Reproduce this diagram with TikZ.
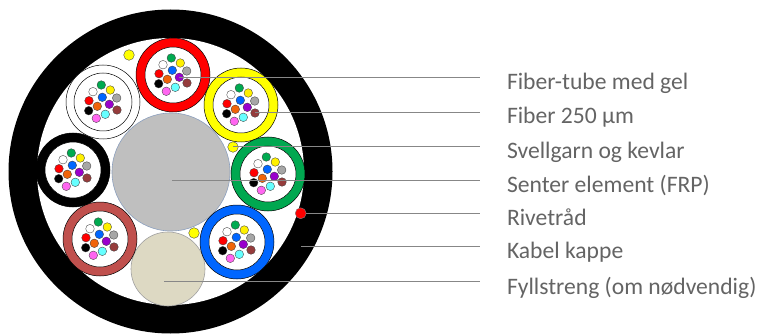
\documentclass[tikz,border=0pt]{standalone}
\usepackage{fontspec}
\setmainfont{Carlito}

% tube and fibre colours
\definecolor{tubered}{RGB}{255,0,0}
\definecolor{tubeyellow}{RGB}{255,255,0}
\definecolor{tubegreen}{RGB}{0,168,80}
\definecolor{tubeblue}{RGB}{0,102,255}
\definecolor{tubebrown}{RGB}{192,80,77}
\definecolor{fgreen}{RGB}{0,170,80}
\definecolor{fyellow}{RGB}{255,240,0}
\definecolor{fred}{RGB}{255,0,0}
\definecolor{fblue}{RGB}{0,102,255}
\definecolor{fgrey}{RGB}{166,166,166}
\definecolor{forange}{RGB}{240,100,10}
\definecolor{fpurple}{RGB}{153,0,204}
\definecolor{fbrown}{RGB}{150,60,60}
\definecolor{fpink}{RGB}{255,102,240}
\definecolor{fcyan}{RGB}{102,255,255}
\definecolor{coregrey}{RGB}{191,191,191}
\definecolor{coreedge}{RGB}{140,160,190}
\definecolor{fillerbeige}{RGB}{221,217,195}
\definecolor{filleredge}{RGB}{160,160,160}
\definecolor{swellyellow}{RGB}{255,255,0}
\definecolor{leadergray}{RGB}{135,135,135}
\definecolor{textgray}{RGB}{100,100,100}

\begin{document}
\begin{tikzpicture}[x=1pt,y=-1pt,
  every node/.style={inner sep=0pt,outer sep=0pt},
  disc/.style={circle,minimum size=#1},
  tube/.style={disc=74pt,draw=black,line width=0.5pt,fill=#1},
  gel/.style={disc=56pt,draw=black,line width=0.5pt,fill=white},
  fiber/.style={disc=8.6pt,draw=black!75,line width=0.35pt,fill=#1},
  yarn/.style={disc=10.6pt,draw=black!70,line width=0.4pt,fill=swellyellow},
  leader/.style={draw=leadergray,line width=1pt},
  legendtext/.style={anchor=base west,inner xsep=27pt,text=textgray,
    font=\fontsize{23.6}{28}\selectfont}
]
\useasboundingbox (0,0) rectangle (763,334);

% cable jacket
\node[disc=324pt,fill=black] (jacket) at (170.5,171.5) {};
\node[disc=267pt,fill=white] (bore) at (170.5,171.5) {};

% central strength member and filler rod
\node[disc=118pt,fill=coregrey,draw=coreedge,line width=0.6pt] (core) at (171,172) {};
\node[disc=74pt,fill=fillerbeige,draw=filleredge,line width=0.6pt] (filler) at (168,269) {};

% coloured loose tubes
\foreach \name/\col/\x/\y in {tred/tubered/173/75, tyellow/tubeyellow/241/105,
    tgreen/tubegreen/268/174, tblue/tubeblue/237/242,
    tbrown/tubebrown/100/239, tblack/black/73/170} {
  \node[tube=\col] (\name) at (\x,\y) {};
  \node[gel] (\name-gel) at (\name) {};
}
% natural tube
\node[tube=white] (twhite) at (103,102) {};
\node[disc=58pt,draw=black,line width=0.5pt,fill=white] (twhite-gel) at (twhite) {};

% twelve fibres in every tube
\foreach \t in {tred,tyellow,tgreen,tblue,tbrown,tblack,twhite} {
  \foreach \c/\dx/\dy [count=\i] in {fgreen/-1.7/-17, white/-10/-10.3,
      fyellow/7.3/-12, fred/-14/-1.3, fblue/-0.7/-4.7, fgrey/13.7/-4,
      forange/-5.7/4.3, fpurple/6.3/2.3, black/-14.3/8.7, fbrown/14/8,
      fpink/-6.7/16.3, fcyan/2.3/12.3} {
    \node[fiber=\c] (\t-f\i) at ([shift={(\dx,\dy)}]\t.center) {};
  }
}

% swelling yarns and rip cord
\node[yarn] (yarn1) at (129,55) {};
\node[yarn] (yarn2) at (233,147) {};
\node[yarn] (yarn3) at (194,233) {};
\node[disc=11pt,fill=tubered,draw=black!50,line width=0.4pt] (rip) at (300.7,213.3) {};

% pick-up points for the leaders
\coordinate (corepin) at (172,180);
\coordinate (jacketpin) at (301,246.2);
\coordinate (fillerpin) at (164,281.8);

% legend
\node[legendtext] (l1) at (480,89.3) {Fiber-tube med gel};
\node[legendtext] (l2) at (480,123.8) {Fiber 250 µm};
\node[legendtext] (l3) at (480,158) {Svellgarn og kevlar};
\node[legendtext] (l4) at (480,192.3) {Senter element (FRP)};
\node[legendtext] (l5) at (480,225) {Rivetråd};
\node[legendtext] (l6) at (480,258.5) {Kabel kappe};
\node[legendtext] (l7) at (480,294.3) {Fyllstreng (om nødvendig)};

% leaders
\draw[leader] (tred-f8.center) -- (tred-f8.center -| l1.west);
\draw[leader] (tyellow-f10.center) -- (tyellow-f10.center -| l2.west);
\draw[leader] (yarn2.center) -- (yarn2.center -| l3.west);
\draw[leader] (corepin) -- (corepin -| l4.west);
\draw[leader] (rip) -- (rip -| l5.west);
\draw[leader] (jacketpin) -- (jacketpin -| l6.west);
\draw[leader] (fillerpin) -- (fillerpin -| l7.west);
\end{tikzpicture}
\end{document}
